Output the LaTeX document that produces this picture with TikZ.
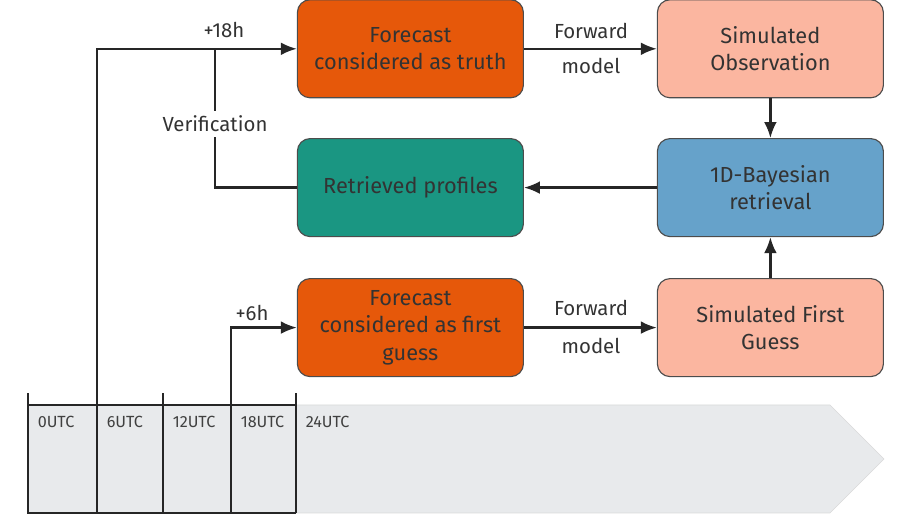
\documentclass[tikz,border=0pt]{standalone}
\usepackage{fontspec}
\setmainfont{Fira Sans}
\usetikzlibrary{arrows.meta}

\definecolor{fcorange}{RGB}{230,88,10}
\definecolor{simsalmon}{RGB}{251,182,160}
\definecolor{bayesblue}{RGB}{102,162,202}
\definecolor{retrteal}{RGB}{26,150,130}
\definecolor{tlgray}{RGB}{232,234,236}

\begin{document}
\begin{tikzpicture}[
    box/.style={draw=black!70, line width=0.8pt, rounded corners=9pt,
      minimum width=5.65cm, minimum height=2.45cm, align=center,
      font=\fontsize{15.5}{19.5}\selectfont, text=black!80},
    link/.style={-{Latex[length=4mm,width=3.2mm]}, line width=1.6pt, black!85},
    lbl/.style={font=\fontsize{14.5}{17}\selectfont, text=black!80},
    utc/.style={font=\fontsize{11.5}{13}\selectfont, anchor=north west, text=black!75}
  ]
    \useasboundingbox (0,0) rectangle (23.05,13.05);

    % Timeline
    \fill[tlgray, draw=black!15] (0.7,0.225) -- (20.75,0.225) -- (22.1,1.575)
      -- (20.75,2.925) -- (0.7,2.925) -- cycle;
    \draw[line width=1.2pt, black!85] (7.4,2.925) -- (0.7,2.925) -- (0.7,0.225) -- (7.4,0.225);
    \foreach \x in {2.425,4.075,5.775,7.4}
      \draw[line width=1.2pt, black!85] (\x,0.225) -- (\x,2.925);
    \foreach \x in {0.7,4.075,7.4}
      \draw[line width=0.9pt, black!85] (\x,2.925) -- (\x,3.225);
    \foreach \x/\t in {0.7/0,2.425/6,4.075/12,5.775/18,7.4/24}
      \node[utc] (utc\t) at (\x+0.12,2.78) {\t UTC};

    % Start points on the timeline
    \coordinate (c6) at (2.425,2.925);
    \coordinate (c18) at (5.775,2.925);

    % Boxes
    \node[box, fill=fcorange] (ftruth) at (10.26,11.83) {Forecast\\considered as truth};
    \node[box, fill=simsalmon] (simobs) at (19.26,11.83) {Simulated\\Observation};
    \node[box, fill=retrteal] (retr) at (10.26,8.36) {Retrieved profiles};
    \node[box, fill=bayesblue] (bayes) at (19.26,8.36) {1D-Bayesian\\retrieval};
    \node[box, fill=fcorange] (fguess) at (10.26,4.86) {Forecast\\considered as first\\guess};
    \node[box, fill=simsalmon] (simfg) at (19.26,4.86) {Simulated First\\Guess};

    % Draw lines
    \draw[link] (c6) |- (ftruth.west);
    \draw[link] (c18) |- (fguess.west);
    \draw[link] (ftruth.east) -- (simobs.west);
    \draw[link] (fguess.east) -- (simfg.west);
    \draw[link] (simobs.south) -- (bayes.north);
    \draw[link] (simfg.north) -- (bayes.south);
    \draw[link] (bayes.west) -- (retr.east);

    % Verification
    \coordinate (vjoin) at (5.375,11.83);
    \node[lbl] (verif) at (5.375,9.95) {Verification};
    \draw[line width=1.6pt, black!85] (retr.west) -| (verif.south);
    \draw[line width=1.6pt, black!85] (verif.north) -- (vjoin);

    % Labels
    \node[lbl] (h18) at (5.6,12.3) {+18h};
    \node[lbl] (h6) at (6.3,5.225) {+6h};
    \node[lbl] (fwd1) at (14.775,12.275) {Forward};
    \node[lbl] (mdl1) at (14.775,11.4) {model};
    \node[lbl] (fwd2) at (14.775,5.35) {Forward};
    \node[lbl] (mdl2) at (14.775,4.4) {model};

\end{tikzpicture}
\end{document}
